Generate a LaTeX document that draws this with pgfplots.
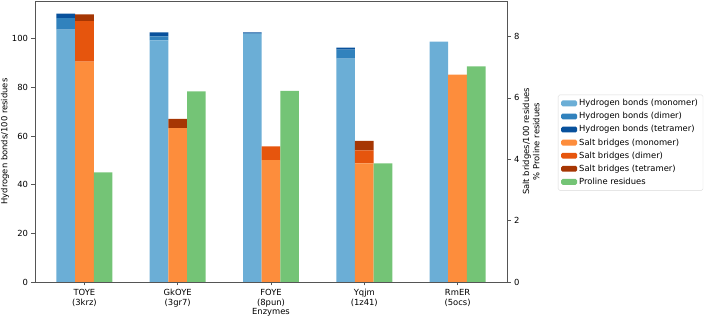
\documentclass[border=0pt]{standalone}
\usepackage{pgfplots}
\pgfplotsset{compat=1.18}
\usepackage{fontspec}
\setmainfont{DejaVu Sans}
\definecolor{hb1}{HTML}{6BAED6}
\definecolor{hb2}{HTML}{3182BD}
\definecolor{hb3}{HTML}{08519C}
\definecolor{sb1}{HTML}{FD8D3C}
\definecolor{sb2}{HTML}{E6550D}
\definecolor{sb3}{HTML}{A63603}
\definecolor{pro}{HTML}{74C476}
\definecolor{axc}{HTML}{555555}
\newcommand{\fs}{\fontsize{8.4}{10.2}\selectfont}
\pgfplotsset{
  common/.style={
    width=472pt, height=281pt, scale only axis,
    xmin=-0.53, xmax=4.53, ymin=0,
    bar width=0.2,
    xtick={0,1,2,3,4},
    xticklabels={{TOYE\\(3krz)},{GkOYE\\(3gr7)},{FOYE\\(8pun)},{Yqjm\\(1z41)},{RmER\\(5ocs)}},
    xticklabel style={align=center, font=\fs},
    yticklabel style={font=\fs},
    label style={font=\fs},
    /pgf/number format/assume math mode=true,
    tick align=outside, major tick length=3.5pt,
    every tick/.style={axc, line width=0.6pt},
    axis line style={axc, line width=0.8pt},
  },
  legimg/.style={legend image code/.code={\fill[##1, draw=none] (0pt,-2.9pt) rectangle (16pt,2.9pt);}},
}
\begin{document}
\begin{tikzpicture}[font=\fs]
\path[use as bounding box] (-35pt,-36pt) rectangle (674pt,282pt);
% Hydrogen bonds (left axis)
\begin{axis}[common, ybar stacked, bar shift=-0.2,
  ymax=115.5, ytick={0,20,40,60,80,100},
  ytick pos=left, xtick pos=bottom,
  xlabel={Enzymes}, ylabel={Hydrogen bonds/100 residues},
  xlabel style={at={(axis description cs:0.5,-0.107)}, anchor=center},
  ylabel style={at={(axis description cs:-0.0636,0.5)}, anchor=center}]
\addplot[fill=hb1, draw=none] coordinates {(0,103.7) (1,99.3) (2,101.9) (3,91.8) (4,98.8)};
\addplot[fill=hb2, draw=none] coordinates {(0,4.8) (1,1.7) (2,0.3) (3,3.7) (4,0)};
\addplot[fill=hb3, draw=none] coordinates {(0,1.8) (1,1.6) (2,0.4) (3,0.8) (4,0)};
\end{axis}
% Salt bridges (right axis)
\begin{axis}[common, ybar stacked, bar shift=0,
  ymax=9.16, ytick={0,2,4,6,8},
  axis x line=none, axis y line*=right,
  ylabel={Salt bridges/100 residues\\\% Proline residues},
  ylabel style={align=center, at={(axis description cs:1.051,0.5)}, anchor=center}]
\addplot[fill=sb1, draw=none] coordinates {(0,7.18) (1,5.02) (2,3.97) (3,3.87) (4,6.76)};
\addplot[fill=sb2, draw=none] coordinates {(0,1.32) (1,0) (2,0.45) (3,0.42) (4,0)};
\addplot[fill=sb3, draw=none] coordinates {(0,0.22) (1,0.30) (2,0) (3,0.31) (4,0)};
\end{axis}
% Proline residues (right axis)
\begin{axis}[common, ybar, bar shift=0.2,
  ymax=9.16, hide axis,
  legend cell align=left,
  legend style={at={(1.108,0.496)}, anchor=west, draw=black!15, rounded corners=1.5pt,
    font=\fs, row sep=1.2pt, inner xsep=3pt, inner ysep=2.5pt},
  legend entries={Hydrogen bonds (monomer),Hydrogen bonds (dimer),Hydrogen bonds (tetramer),Salt bridges (monomer),Salt bridges (dimer),Salt bridges (tetramer),Proline residues}]
\addlegendimage{legimg, fill=hb1}
\addlegendimage{legimg, fill=hb2}
\addlegendimage{legimg, fill=hb3}
\addlegendimage{legimg, fill=sb1}
\addlegendimage{legimg, fill=sb2}
\addlegendimage{legimg, fill=sb3}
\addplot[fill=pro, draw=none, legimg] coordinates {(0,3.57) (1,6.21) (2,6.23) (3,3.87) (4,7.03)};
\end{axis}
\end{tikzpicture}
\end{document}
